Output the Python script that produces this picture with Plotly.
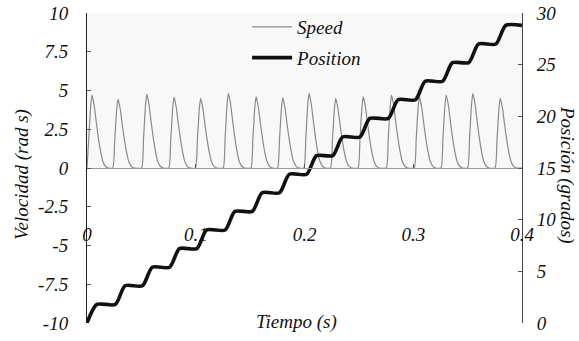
import plotly.graph_objects as go

# ---- data ----
# speed pulses: time of each peak (s) and peak value (rad/s)
pulse_peak_t = [0.0046, 0.0285, 0.0550, 0.0800, 0.1045, 0.1300, 0.1555, 0.1800,
                0.2042, 0.2287, 0.2540, 0.2800, 0.3057, 0.3303, 0.3548, 0.3800]
pulse_peak_v = [4.70, 4.45, 4.77, 4.58, 4.50, 4.82, 4.60, 4.54,
                4.82, 4.50, 4.60, 4.71, 4.60, 4.71, 4.82, 4.50]
# shape of one pulse: offset from peak (s) and fraction of the peak
profile_dt = [-0.0048, -0.0030, -0.0012, 0.0, 0.0020, 0.0040, 0.0060, 0.0080, 0.0100, 0.0125, 0.0150]
profile_f = [0.0, 0.40, 0.85, 1.0, 0.86, 0.62, 0.40, 0.22, 0.09, 0.02, 0.0]

# position staircase: time each step starts rising (s), rise duration, levels (deg)
step_start_t = [0.000, 0.026, 0.051, 0.076, 0.101, 0.127, 0.152, 0.177,
                0.202, 0.226, 0.251, 0.277, 0.302, 0.327, 0.351, 0.376]
step_rise = 0.009
step_level = [0.0, 1.8, 3.6, 5.4, 7.2, 9.0, 10.8, 12.6, 14.4, 16.2,
              18.0, 19.8, 21.6, 23.4, 25.2, 27.0, 28.8]

t_end = 0.4
left_ticks = [-10, -7.5, -5, -2.5, 0, 2.5, 5, 7.5, 10]
left_ticktext = ["-10", "-7.5", "-5", "-2.5", "0", "2.5", "5", "7.5", "10"]
right_ticks = [0, 5, 10, 15, 20, 25, 30]
x_ticks = [0, 0.1, 0.2, 0.3, 0.4]
x_ticktext = ["0", "0.1", "0.2", "0.3", "0.4"]

# ---- build traces ----
speed_t, speed_v = [], []
for tp, vp in zip(pulse_peak_t, pulse_peak_v):
    for dt, fr in zip(profile_dt, profile_f):
        speed_t.append(max(0.0, tp + dt))
        speed_v.append(vp * fr)
speed_t.append(t_end)
speed_v.append(0.0)

pos_t, pos_v = [], []
for k, ts in enumerate(step_start_t):
    pos_t += [ts, ts + step_rise]
    pos_v += [step_level[k], step_level[k + 1]]
pos_t.append(t_end)
pos_v.append(step_level[-1])

FONT = "Liberation Serif"
fig = go.Figure()
fig.add_trace(go.Scatter(x=speed_t, y=speed_v, mode="lines", name="Speed",
                         line=dict(color="#8a8a8a", width=1.2, shape="spline", smoothing=0.5),
                         yaxis="y", legendgroup="a"))
fig.add_trace(go.Scatter(x=pos_t, y=pos_v, mode="lines", name="Position",
                         line=dict(color="#111111", width=3.6, shape="spline", smoothing=0.7),
                         yaxis="y2", legendgroup="b"))

fig.add_shape(type="rect", xref="x", yref="y", x0=0, x1=t_end, y0=0, y1=10,
              fillcolor="#f8f8f8", line=dict(width=0), layer="below")


def f(size=19):
    return dict(family=FONT, size=size, style="italic", color="#111111")


fig.update_layout(
    width=579, height=341,
    margin=dict(l=87, r=57, t=13, b=18, autoexpand=False),
    paper_bgcolor="white", plot_bgcolor="white",
    font=f(),
    showlegend=True,
    legend=dict(x=0.368, y=1.016, xanchor="left", yanchor="top",
                bgcolor="rgba(0,0,0,0)", font=f(),
                tracegroupgap=3, itemwidth=40),
    xaxis=dict(range=[0, t_end], anchor="free", position=0.5,
               tickvals=x_ticks, ticktext=x_ticktext, tickfont=f(),
               ticks="inside", ticklen=4, tickcolor="#555",
               showline=True, linecolor="#9a9a9a", linewidth=1,
               showgrid=False, zeroline=False, ticklabelstandoff=49),
    yaxis=dict(range=[-10, 10], tickvals=left_ticks, ticktext=left_ticktext,
               tickfont=f(), ticks="inside", ticklen=4, tickcolor="#555",
               showline=True, linecolor="#222", linewidth=1,
               showgrid=False, zeroline=False, ticklabelstandoff=14),
    yaxis2=dict(range=[0, 30], overlaying="y", side="right", tickvals=right_ticks,
                tickfont=f(), ticks="inside", ticklen=4, tickcolor="#555",
                showline=True, linecolor="#444", linewidth=1,
                showgrid=False, zeroline=False, ticklabelstandoff=10),
)

fig.add_annotation(text="Velocidad (rad s)", xref="paper", yref="paper",
                   x=(22 - 87) / 435, y=(323 - 175) / 310, textangle=-90,
                   showarrow=False, font=f(), xanchor="center", yanchor="middle")
fig.add_annotation(text="Posición (grados)", xref="paper", yref="paper",
                   x=(567 - 87) / 435, y=(323 - 175) / 310, textangle=90,
                   showarrow=False, font=f(), xanchor="center", yanchor="middle")
fig.add_annotation(text="Tiempo (s)", xref="paper", yref="paper",
                   x=(296 - 87) / 435, y=(323 - 322) / 310,
                   showarrow=False, font=f(), xanchor="center", yanchor="middle")

fig.write_html("out.html")
